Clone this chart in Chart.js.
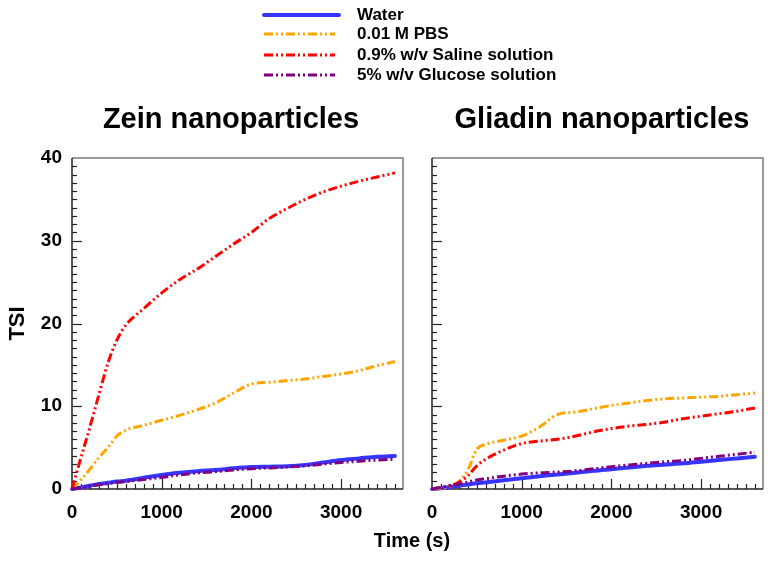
<!DOCTYPE html>
<html>
<head>
<meta charset="utf-8">
<script src="https://cdn.jsdelivr.net/npm/chart.js@4.4.1/dist/chart.umd.min.js"></script>
<style>
  body { margin: 0; background: #fff; font-family: "Liberation Sans", Arial, sans-serif; }
  #page { position: relative; width: 778px; height: 572px; overflow: hidden; }
  canvas { position: absolute; top: 0; }
  .panel-title { position: absolute; top: 102px; font-weight: bold; font-size: 29px; transform: translateX(-50%); white-space: nowrap; }
  .legend-row { position: absolute; left: 262px; height: 20px; }
  .legend-row canvas { position: absolute; left: 0; top: 0; }
  .legend-row span { position: absolute; left: 95px; top: 0px; font-weight: bold; font-size: 17px; white-space: nowrap; }
  #xLabel { position: absolute; left: 412px; top: 529px; font-weight: bold; font-size: 20px; transform: translateX(-50%); white-space: nowrap; }
</style>
</head>
<body>
<div id="page">
  <canvas id="zeinChart" width="410" height="572" style="left:0"></canvas>
  <canvas id="gliadinChart" width="368" height="572" style="left:410px"></canvas>
  <div class="panel-title" style="left:231px">Zein nanoparticles</div>
  <div class="panel-title" style="left:602px">Gliadin nanoparticles</div>
  <div id="legend"></div>
  <div id="xLabel">Time (s)</div>
</div>
<script>
// Temps de mesure (s)
const timePoints = [0, 100, 200, 300, 400, 500, 600, 800, 1000, 1200, 1400, 1600, 1800, 2000, 2200, 2400, 2600, 2800, 3000, 3200, 3400, 3600];

const seriesNames = ['Water', '0.01 M PBS', '0.9% w/v Saline solution', '5% w/v Glucose solution'];

// Zein nanoparticles - TSI
const zeinWater   = [0, 0.2, 0.4, 0.6, 0.75, 0.9, 1.0, 1.35, 1.7, 1.95, 2.15, 2.3, 2.5, 2.65, 2.7, 2.75, 2.9, 3.2, 3.5, 3.7, 3.9, 4.0];
const zeinPBS     = [0, 1.1, 2.4, 3.8, 5.0, 6.4, 7.1, 7.7, 8.3, 8.9, 9.6, 10.4, 11.6, 12.7, 12.9, 13.1, 13.3, 13.6, 13.9, 14.3, 14.9, 15.4];
const zeinSaline  = [0, 3.8, 7.5, 11.4, 15.2, 18.0, 19.8, 21.8, 23.7, 25.3, 26.6, 28.1, 29.6, 31.0, 32.7, 33.9, 35.0, 35.9, 36.6, 37.2, 37.7, 38.2];
const zeinGlucose = [0, 0.15, 0.35, 0.5, 0.65, 0.8, 0.9, 1.15, 1.4, 1.7, 1.95, 2.1, 2.3, 2.45, 2.55, 2.65, 2.8, 3.0, 3.2, 3.35, 3.5, 3.6];

// Gliadin nanoparticles - TSI
const gliadinWater   = [0, 0.1, 0.25, 0.4, 0.55, 0.7, 0.8, 1.05, 1.3, 1.55, 1.75, 1.95, 2.2, 2.4, 2.6, 2.8, 2.95, 3.1, 3.3, 3.5, 3.7, 3.9];
const gliadinPBS     = [0, 0.1, 0.3, 0.9, 2.3, 4.8, 5.4, 5.9, 6.4, 7.5, 9.0, 9.3, 9.7, 10.1, 10.4, 10.7, 10.9, 11.0, 11.1, 11.2, 11.4, 11.6];
const gliadinSaline  = [0, 0.2, 0.4, 0.8, 1.6, 2.8, 3.6, 4.7, 5.5, 5.8, 6.0, 6.4, 6.9, 7.3, 7.6, 7.8, 8.1, 8.5, 8.8, 9.1, 9.4, 9.8];
const gliadinGlucose = [0, 0.2, 0.4, 0.6, 0.85, 1.1, 1.25, 1.55, 1.8, 1.95, 2.05, 2.2, 2.45, 2.7, 2.9, 3.1, 3.3, 3.45, 3.7, 3.95, 4.2, 4.45];

const yTickValues = [0, 10, 20, 30, 40];
const xTickValues = [0, 1000, 2000, 3000];

const seriesColors = ['#3535ff', '#ffa500', '#ff0000', '#800080'];
const dashDotDot = [9, 3, 2, 3, 2, 3];
const seriesDash = [[], dashDotDot, dashDotDot, dashDotDot];
const seriesWidth = [4, 3, 3, 3];

const X_MAX = 3690;
const tickFont = { family: 'Liberation Sans', weight: 'bold', size: 19 };

function buildDatasets(valueLists) {
    return valueLists.map((values, i) => ({
        label: seriesNames[i],
        data: values.map((v, k) => ({ x: timePoints[k], y: v })),
        borderColor: seriesColors[i],
        borderWidth: seriesWidth[i],
        borderDash: seriesDash[i],
        borderCapStyle: i === 0 ? 'round' : 'butt',
        pointRadius: 0,
        cubicInterpolationMode: 'monotone',
        clip: false,
        fill: false
    }));
}

// cadre + graduations vers l'intérieur
const frameTicks = {
    id: 'frameTicks',
    beforeDatasetsDraw(chart) {
        const { ctx, chartArea: a, scales } = chart;
        ctx.save();
        ctx.lineWidth = 1.5;
        ctx.strokeStyle = '#777';
        ctx.beginPath();
        ctx.moveTo(a.left, a.top); ctx.lineTo(a.right, a.top); ctx.lineTo(a.right, a.bottom);
        ctx.stroke();
        ctx.strokeStyle = '#222';
        ctx.beginPath();
        ctx.moveTo(a.left, a.top); ctx.lineTo(a.left, a.bottom); ctx.lineTo(a.right, a.bottom);
        ctx.stroke();
        ctx.lineWidth = 1.2;
        for (let v = 100; v < X_MAX; v += 100) {
            const px = Math.round(scales.x.getPixelForValue(v)) + 0.5;
            const len = v % 1000 === 0 ? 10 : 5;
            ctx.beginPath(); ctx.moveTo(px, a.bottom); ctx.lineTo(px, a.bottom - len); ctx.stroke();
        }
        for (let v = 1; v < 40; v++) {
            const py = Math.round(scales.y.getPixelForValue(v)) + 0.5;
            const len = v % 10 === 0 ? 10 : 5;
            ctx.beginPath(); ctx.moveTo(a.left, py); ctx.lineTo(a.left + len, py); ctx.stroke();
        }
        ctx.restore();
    }
};

function makeChart(canvasId, valueLists, showY) {
    const ctx = document.getElementById(canvasId).getContext('2d');
    return new Chart(ctx, {
        type: 'line',
        data: { datasets: buildDatasets(valueLists).reverse() },
        options: {
            responsive: false,
            animation: false,
            devicePixelRatio: 1,
            layout: { padding: { left: 0, top: 158, right: showY ? 7 : 15, bottom: 0 } },
            plugins: { legend: { display: false }, tooltip: { enabled: false } },
            scales: {
                x: {
                    type: 'linear',
                    min: 0,
                    max: X_MAX,
                    afterBuildTicks: s => { s.ticks = xTickValues.map(v => ({ value: v })); },
                    afterFit: s => { s.height = 83; },
                    grid: { display: false, drawTicks: false },
                    border: { display: false },
                    ticks: { font: tickFont, color: '#000', padding: 12, maxRotation: 0, callback: v => String(v) }
                },
                y: {
                    min: 0,
                    max: 40,
                    afterBuildTicks: s => { s.ticks = yTickValues.map(v => ({ value: v })); },
                    afterFit: s => { s.width = showY ? 72 : 22; },
                    grid: { display: false, drawTicks: false },
                    border: { display: false },
                    ticks: { display: showY, font: tickFont, color: '#000', padding: 10 },
                    title: {
                        display: showY,
                        text: 'TSI',
                        color: '#000',
                        font: { family: 'Liberation Sans', weight: 'bold', size: 22 },
                        padding: { top: 5, bottom: 0 }
                    }
                }
            }
        },
        plugins: [frameTicks]
    });
}

makeChart('zeinChart', [zeinWater, zeinPBS, zeinSaline, zeinGlucose], true);
makeChart('gliadinChart', [gliadinWater, gliadinPBS, gliadinSaline, gliadinGlucose], false);

// Légende commune en haut
const legendDiv = document.getElementById('legend');
const rowTops = [5, 24, 45, 65];
seriesNames.forEach((name, i) => {
    const row = document.createElement('div');
    row.className = 'legend-row';
    row.style.top = rowTops[i] + 'px';
    row.innerHTML = `<canvas width="80" height="20"></canvas><span>${name}</span>`;
    legendDiv.appendChild(row);
    const c = row.querySelector('canvas').getContext('2d');
    c.strokeStyle = seriesColors[i];
    c.lineWidth = seriesWidth[i];
    c.lineCap = i === 0 ? 'round' : 'butt';
    c.setLineDash(seriesDash[i]);
    c.beginPath();
    c.moveTo(2, 10);
    c.lineTo(i === 0 ? 77 : 73, 10);
    c.stroke();
});
</script>
</body>
</html>
